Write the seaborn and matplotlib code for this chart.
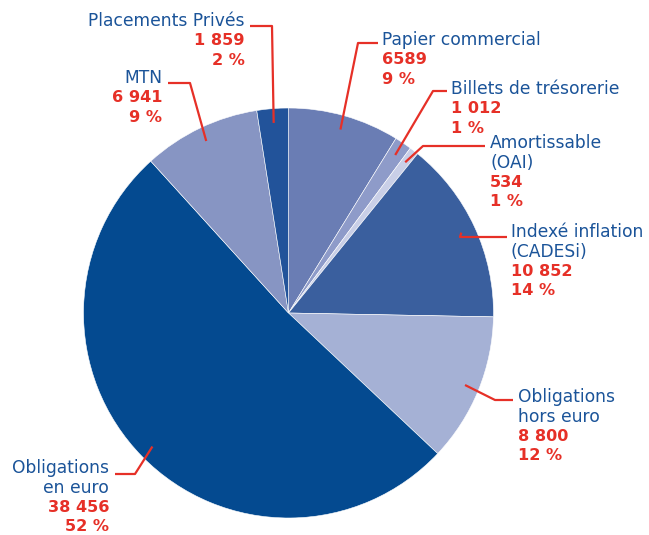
import numpy as np
import matplotlib
matplotlib.use("Agg")
import matplotlib.pyplot as plt
import seaborn as sns

# encours par instrument
categories = ["Papier commercial", "Billets de trésorerie", "Amortissable\n(OAI)",
              "Indexé inflation\n(CADESi)", "Obligations\nhors euro",
              "Obligations\nen euro", "MTN", "Placements Privés"]
values = [6589, 1012, 534, 10852, 8800, 38456, 6941, 1859]
value_labels = ["6589", "1 012", "534", "10 852", "8 800", "38 456", "6 941", "1 859"]
pct_labels = ["9 %", "1 %", "1 %", "14 %", "12 %", "52 %", "9 %", "2 %"]
colors = ["#6A7DB4", "#8E9BC9", "#C9CFE7", "#3A5F9E", "#A5B1D5", "#044A90", "#8795C3", "#22539A"]

W, H = 649, 535
BLUE = "#1B5499"
RED = "#E63027"

# label layout in pixel coords (y downward): elbow, end of leader, text x, first line y, align
layout = [
    ((358, 43), (378, 43), 382, 40, "left"),
    ((433, 91), (447, 91), 451, 89, "left"),
    ((423, 146), (485, 146), 490, 143, "left"),
    ((460, 237), (507, 237), 511, 232, "left"),
    ((495, 400), (513, 400), 518, 397, "left"),
    ((135, 474), (115, 474), 109, 468, "right"),
    ((190, 83), (168, 83), 162, 78, "right"),
    ((272, 26), (250, 26), 245, 21, "right"),
]


def py(y):
    return H - y


def main():
    sns.set_theme(style="white")
    plt.rcParams["font.family"] = ["DejaVu Sans"]

    fig = plt.figure(figsize=(W / 100, H / 100), dpi=100)
    ax = fig.add_axes([0, 0, 1, 1])

    cx, cy, r = 288.5, py(313), 205
    wedges, _ = ax.pie(values, colors=colors, startangle=90, counterclock=False,
                       center=(cx, cy), radius=r, frame=True,
                       wedgeprops=dict(edgecolor="white", linewidth=0.4))
    ax.set_xlim(0, W)
    ax.set_ylim(0, H)
    ax.set_aspect("equal")
    ax.axis("off")

    lh = 19.6
    for w, name, val, pct, (elb, end, tx, ty, ha) in zip(
            wedges, categories, value_labels, pct_labels, layout):
        mid = np.deg2rad((w.theta1 + w.theta2) / 2)
        ax_x = cx + 0.93 * r * np.cos(mid)
        ax_y = cy + 0.93 * r * np.sin(mid)
        ax.plot([ax_x, elb[0], end[0]], [ax_y, py(elb[1]), py(end[1])],
                color=RED, lw=1.6, solid_capstyle="butt", zorder=5)
        y = ty
        for ln in name.split("\n"):
            ax.text(tx, py(y), ln, color=BLUE, fontsize=12.3, ha=ha, va="center")
            y += lh
        for ln in (val, pct):
            ax.text(tx, py(y), ln, color=RED, fontsize=11.6, fontweight="bold",
                    ha=ha, va="center")
            y += lh

    fig.savefig("out.png", dpi=100, facecolor="white")
    plt.close(fig)


if __name__ == "__main__":
    main()
